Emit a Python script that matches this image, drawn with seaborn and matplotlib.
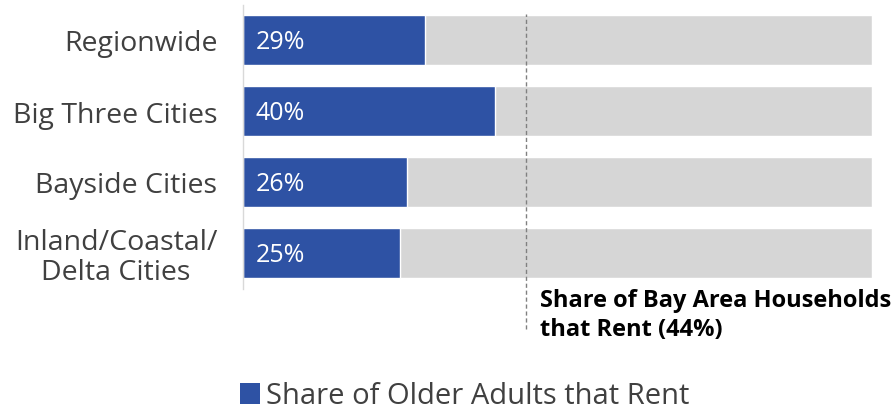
import matplotlib
matplotlib.use("Agg")
import matplotlib.pyplot as plt
from matplotlib.patches import Patch
import seaborn as sns
import pandas as pd

categories = ["Regionwide", "Big Three Cities", "Bayside Cities", "Inland/Coastal/\nDelta Cities"]
older_rent = [29, 40, 26, 25]
full_scale = [100, 100, 100, 100]
household_share_label = 44
household_line_pos = 45  # position of dashed line as drawn in the reference
series_name = "Share of Older Adults that Rent"
annotation = "Share of Bay Area Households\nthat Rent ({}%)".format(household_share_label)

BLUE = "#2E52A4"
GRAY = "#D6D6D6"

sns.set_theme(style="white")
plt.rcParams["font.family"] = ["Open Sans", "DejaVu Sans"]

df = pd.DataFrame({"cat": categories, "val": older_rent, "full": full_scale})

fig = plt.figure(figsize=(8.94, 4.14), dpi=100)
ax = fig.add_axes([243/894, (414-289.5)/414, 629/894, 284/414])

sns.barplot(data=df, y="cat", x="full", color=GRAY, width=0.70, ax=ax,
            saturation=1, orient="h")
sns.barplot(data=df, y="cat", x="val", color=BLUE, width=0.70, ax=ax,
            saturation=1, orient="h")

for i, v in enumerate(older_rent):
    ax.text(2.0, i + 0.02, f"{v}%", color="white", va="center", ha="left", fontsize=18)

ax.axvline(household_line_pos, ymin=-0.143, ymax=0.967, color="#808080",
           linestyle=(0, (3, 2)), linewidth=1, clip_on=False)
ax.text(household_line_pos + 2.2, 3.5, annotation, ha="left", va="top",
        fontsize=17, fontweight="bold", color="black", linespacing=1.25)

ax.set_xlim(0, 100)
ax.set_ylim(3.5, -0.5)
ax.set_xlabel("")
ax.set_ylabel("")
ax.set_xticks([])
ax.tick_params(axis="y", length=0, pad=18.5, labelsize=20.5, labelcolor="#404040")
for lbl in ax.get_yticklabels():
    lbl.set_multialignment("center")
    lbl.set_linespacing(1.05)
for s in ["top", "right", "bottom"]:
    ax.spines[s].set_visible(False)
ax.spines["left"].set_color("#D9D9D9")
ax.spines["left"].set_linewidth(1)

handles = [Patch(facecolor=BLUE, edgecolor="none", label=series_name)]
fig.legend(handles=handles, loc="center left", bbox_to_anchor=(240/894, 1 - 397/414),
           frameon=False, fontsize=21, handlelength=0.7, handleheight=0.7,
           handletextpad=0.2, labelcolor="#404040", borderaxespad=0, borderpad=0)

fig.savefig("out.png", dpi=100)
